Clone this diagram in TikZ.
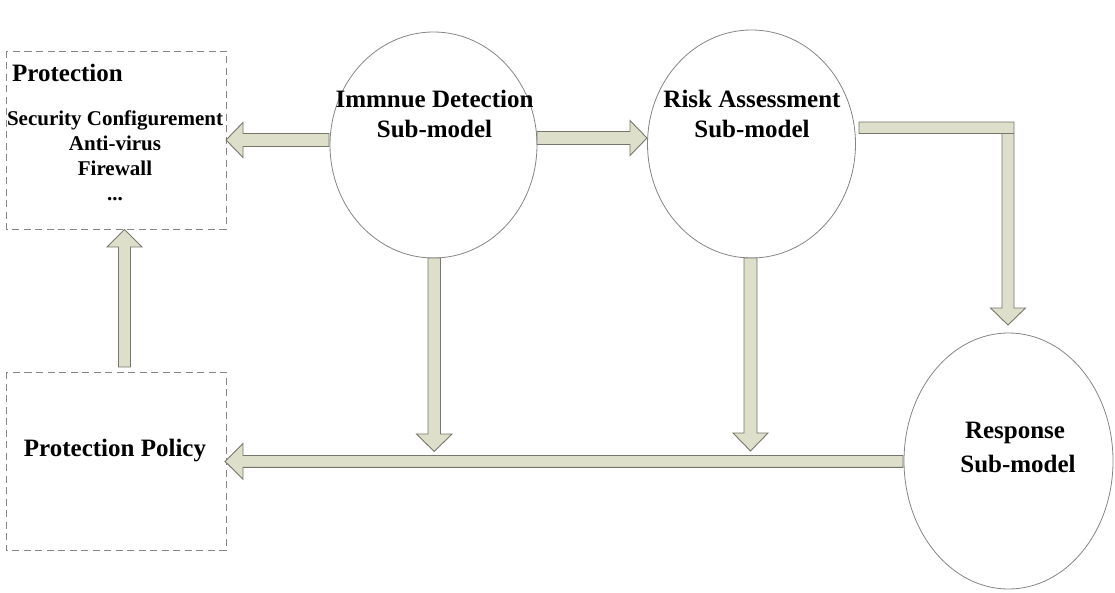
\documentclass[tikz,border=0pt]{standalone}
\usepackage{fontspec}
\setmainfont{Liberation Serif}
\usetikzlibrary{shapes.geometric}
\definecolor{arrfill}{HTML}{DDDFCA}
\definecolor{arrline}{HTML}{76766A}
\definecolor{edgegray}{HTML}{858585}
\begin{document}
\begin{tikzpicture}[x=1pt,y=-1pt,
  blockarrow/.style={fill=arrfill,draw=arrline,line width=0.9pt,line join=miter},
  oval/.style={ellipse,draw=edgegray,line width=0.8pt,inner sep=0pt},
  dashbox/.style={draw=edgegray,line width=0.9pt,dash pattern=on 7pt off 4.5pt},
  big/.style={font=\fontsize{25}{30}\selectfont\bfseries,inner sep=0pt},
  small/.style={font=\fontsize{21}{25}\selectfont\bfseries,inner sep=0pt}]
\useasboundingbox (0,0) rectangle (1115,593);
% boxes
\draw[dashbox] (6,51) rectangle (226,229);
\draw[dashbox] (6,372) rectangle (226,550);
% ellipses
\node[oval,minimum width=207pt,minimum height=226pt] (imm) at (433.5,145) {};
\node[oval,minimum width=208pt,minimum height=228pt] (risk) at (751.5,144) {};
\node[oval,minimum width=209pt,minimum height=256pt] (resp) at (1008.5,461) {};
% texts
\node[big,anchor=base west] (prot) at (12,82) {Protection};
\node[small,anchor=base] (sc) at (115,126) {Security Configurement};
\node[small,anchor=base] (av) at (115,151) {Anti-virus};
\node[small,anchor=base] (fw) at (115,176) {Firewall};
\node[small,anchor=base] (dots) at (115,201) {...};
\node[big,anchor=base] (pp) at (115,456.5) {Protection Policy};
\node[big,anchor=base] (imm1) at (434.5,108) {Immnue Detection};
\node[big,anchor=base] (imm2) at (434.5,138) {Sub-model};
\node[big,anchor=base] (risk1) at (752,107.5) {Risk Assessment};
\node[big,anchor=base] (risk2) at (752,137.5) {Sub-model};
\node[big,anchor=base] (resp1) at (1015,438.5) {Response};
\node[big,anchor=base] (resp2) at (1018,472) {Sub-model};
% block arrows
% immune -> protection
\draw[blockarrow] (329,133.5) -- (243,133.5) -- (243,122.5) -- (226,140) -- (243,157.5) -- (243,146.5) -- (329,146.5) -- cycle;
% immune -> risk
\draw[blockarrow] (537,131.5) -- (630,131.5) -- (630,120.5) -- (647,138) -- (630,155.5) -- (630,144.5) -- (537,144.5) -- cycle;
% risk -> response (elbow)
\draw[blockarrow] (859,122) -- (1014,122) -- (1014,308) -- (1025.5,308) -- (1008,325) -- (990.5,308) -- (1002,308) -- (1002,133.5) -- (859,133.5) -- cycle;
\draw[arrline,line width=0.9pt] (1002,133.5) -- (1014,133.5);
% immune down
\draw[blockarrow] (428,258) -- (440.5,258) -- (440.5,434) -- (452,434) -- (434.2,451.5) -- (416.5,434) -- (428,434) -- cycle;
% risk down
\draw[blockarrow] (744,258) -- (757,258) -- (757,433) -- (768,433) -- (750.5,451) -- (733,433) -- (744,433) -- cycle;
% response -> policy
\draw[blockarrow] (903,455.5) -- (243,455.5) -- (243,443.5) -- (225,461.4) -- (243,479.3) -- (243,467.3) -- (903,467.3) -- cycle;
% policy -> protection
\draw[blockarrow] (118.5,367) -- (118.5,247) -- (107,247) -- (124.5,229.5) -- (142,247) -- (130.5,247) -- (130.5,367) -- cycle;
\end{tikzpicture}
\end{document}
